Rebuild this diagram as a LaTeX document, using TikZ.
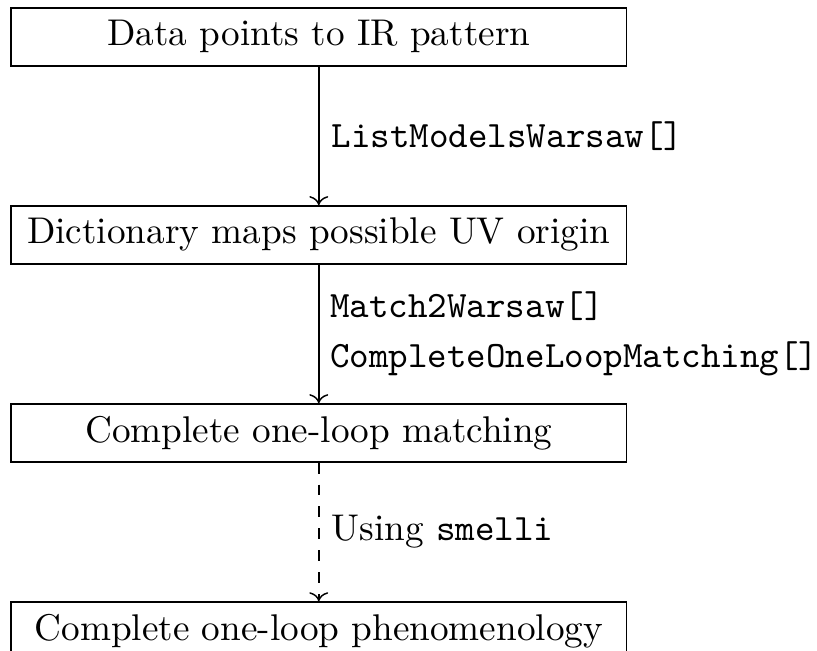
\documentclass[tikz,border=0pt]{standalone}
\usetikzlibrary{arrows.meta,positioning}

\begin{document}
\begin{tikzpicture}[
  every node/.style={font=\fontsize{10.2pt}{12.3pt}\selectfont},
  stagebox/.style={draw,minimum width=168.8pt,minimum height=15.9pt,inner sep=0pt},
  node distance=38pt
]
  \useasboundingbox (-87.4pt,10.1pt) rectangle (136.6pt,-168.2pt);

  % stages of the chain
  \node[stagebox] (ir) at (0,0) {Data points to IR pattern};
  \node[stagebox,below=of ir] (uv) {Dictionary maps possible UV origin};
  \node[stagebox,below=of uv] (match) {Complete one-loop matching};
  \node[stagebox,below=of match] (pheno) {Complete one-loop phenomenology};

  % steps between them
  \draw[->] (ir) -- (uv) node[midway,right] {\texttt{ListModelsWarsaw[]}};
  \draw[->] (uv) -- (match) node[midway,right,align=left,xshift=-0.4pt]
    {\texttt{Match2Warsaw[]}\\[1.5pt]\texttt{CompleteOneLoopMatching[]}};
  \draw[->,dashed] (match) -- (pheno) node[midway,right] {Using \texttt{smelli}};
\end{tikzpicture}
\end{document}
